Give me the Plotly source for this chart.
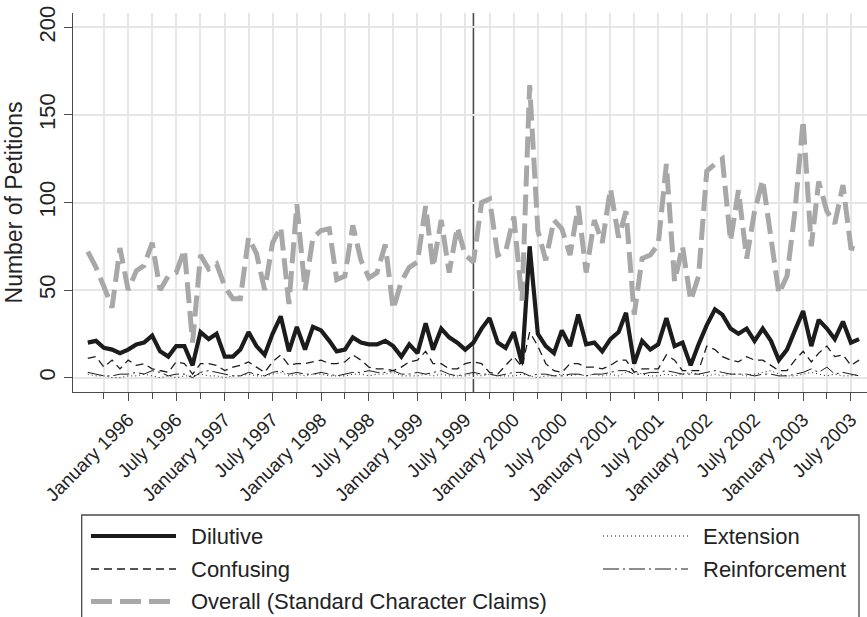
import pandas as pd
import plotly.graph_objects as go

# ---------------- data (monthly counts) ----------------
START_MONTH = "1995-08-01"
EVENT_DATE = "1999-08-01"

dilutive = [20, 21, 17, 16, 14, 16, 19, 20, 24, 15,
            12, 18, 18, 7, 26, 22, 25, 12, 12, 16,
            26, 18, 13, 25, 35, 15, 29, 16, 29, 27,
            21, 15, 16, 23, 20, 19, 19, 21, 18, 12,
            19, 14, 31, 16, 28, 23, 20, 16, 20, 28,
            34, 20, 17, 26, 8, 75, 25, 18, 14, 27,
            18, 36, 19, 20, 15, 22, 26, 37, 8, 21,
            16, 19, 34, 18, 20, 7, 19, 30, 39, 36,
            28, 25, 28, 21, 28, 21, 10, 16, 27, 38,
            18, 33, 28, 22, 32, 20, 22]

confusing = [11, 12, 6, 10, 5, 10, 7, 8, 5, 4,
             3, 9, 8, 2, 8, 8, 7, 4, 6, 7,
             9, 6, 3, 9, 13, 7, 8, 8, 9, 10,
             8, 8, 9, 13, 10, 6, 5, 5, 4, 6,
             9, 10, 15, 8, 8, 5, 5, 8, 9, 8,
             3, 2, 7, 12, 6, 26, 18, 8, 4, 3,
             8, 8, 6, 6, 5, 7, 10, 10, 3, 5,
             5, 5, 13, 10, 4, 4, 4, 18, 16, 12,
             10, 9, 12, 10, 10, 7, 4, 4, 10, 15,
             9, 14, 18, 12, 13, 7, 10]

overall = [72, 63, 52, 40, 74, 50, 61, 64, 77, 50,
           58, 60, 73, 20, 70, 62, 65, 52, 45, 45,
           80, 71, 50, 77, 86, 42, 99, 50, 80, 84,
           85, 56, 58, 87, 67, 57, 60, 76, 39, 55,
           63, 66, 98, 63, 90, 60, 86, 70, 66, 100,
           102, 70, 72, 92, 44, 167, 84, 67, 90, 85,
           70, 98, 60, 90, 77, 108, 80, 95, 36, 68,
           70, 76, 122, 55, 75, 44, 58, 118, 122, 125,
           78, 107, 68, 95, 113, 80, 48, 58, 95, 147,
           75, 112, 95, 88, 110, 74, 73]

extension = [2, 1, 1, 0, 0, 1, 1, 2, 1, 0,
             1, 0, 1, 1, 2, 1, 1, 0, 1, 1,
             2, 1, 1, 2, 3, 1, 2, 1, 2, 2,
             1, 1, 1, 2, 2, 1, 2, 2, 3, 1,
             1, 1, 2, 1, 2, 1, 1, 1, 2, 1,
             2, 1, 1, 1, 2, 1, 0, 1, 1, 2,
             1, 2, 1, 2, 1, 2, 1, 3, 4, 2,
             1, 1, 2, 1, 2, 3, 2, 1, 2, 1,
             2, 2, 1, 2, 3, 4, 2, 1, 1, 2,
             3, 2, 1, 2, 1, 1, 2]

reinforcement = [3, 2, 1, 1, 2, 2, 3, 2, 4, 3,
                 1, 2, 2, 0, 3, 4, 3, 2, 1, 1,
                 3, 2, 1, 3, 4, 2, 3, 2, 2, 3,
                 2, 1, 2, 3, 3, 4, 3, 3, 4, 2,
                 2, 3, 2, 3, 4, 2, 1, 2, 3, 2,
                 2, 1, 2, 3, 3, 1, 2, 2, 1, 1,
                 2, 2, 1, 2, 2, 3, 4, 4, 2, 2,
                 3, 3, 4, 3, 2, 2, 2, 3, 4, 3,
                 2, 2, 2, 1, 2, 2, 1, 1, 2, 3,
                 5, 3, 6, 2, 3, 2, 1]

y_ticks = [0, 50, 100, 150, 200]
X_FIRST_LABEL, X_LAST_LABEL = "1996-01-01", "2003-07-01"
X_FIRST_MINOR = "1995-10-01"

months = pd.date_range(START_MONTH, periods=len(dilutive), freq="MS")
major_ticks = pd.date_range(X_FIRST_LABEL, X_LAST_LABEL, freq="6MS")
minor_ticks = pd.date_range(X_FIRST_MINOR, X_LAST_LABEL, freq="3MS")
major_text = [d.strftime("%B %Y") for d in major_ticks]

# ---------------- styles ----------------
FONT = "Liberation Sans, Arial, Helvetica, sans-serif"
INK = "#232323"
AXIS = "#4a4a4a"
GRID = "#e6e6e6"

styles = {
    "Dilutive": dict(color="#1c1c1c", width=4.2, dash="solid"),
    "Confusing": dict(color="#1c1c1c", width=1.3, dash="8px,5px"),
    "Overall (Standard Character Claims)": dict(color="#a8a8a8", width=5, dash="21px,8px"),
    "Extension": dict(color="#1c1c1c", width=1.0, dash="1px,3px"),
    "Reinforcement": dict(color="#1c1c1c", width=1.0, dash="16px,4px,2px,4px"),
}
values = {
    "Dilutive": dilutive,
    "Confusing": confusing,
    "Overall (Standard Character Claims)": overall,
    "Extension": extension,
    "Reinforcement": reinforcement,
}
draw_order = ["Dilutive", "Extension", "Confusing", "Reinforcement",
              "Overall (Standard Character Claims)"]

fig = go.Figure()
for name in draw_order:
    fig.add_trace(go.Scatter(x=months, y=values[name], mode="lines", name=name,
                             line=styles[name], showlegend=False,
                             hoverinfo="x+y+name"))

W, H = 867, 617
L, R, T, B = 73, 0, 13, 225

fig.update_layout(
    width=W, height=H,
    margin=dict(l=L, r=R, t=T, b=B, pad=0),
    paper_bgcolor="white", plot_bgcolor="rgba(0,0,0,0)",
    font=dict(family=FONT, color=INK),
    showlegend=False,
)

fig.update_xaxes(
    type="date", range=["1995-06-06", "2003-08-31"],
    showline=True, linecolor=AXIS, linewidth=1.3, mirror=False,
    ticks="outside", ticklen=8, tickwidth=1.3, tickcolor=AXIS,
    tickmode="array", tickvals=major_ticks, ticktext=major_text, tickangle=-45,
    tickfont=dict(size=19, color=INK, family=FONT),
    showgrid=True, gridcolor=GRID, gridwidth=1.6, zeroline=False,
    minor=dict(tickmode="array", tickvals=minor_ticks, ticks="outside", ticklen=6,
               tickwidth=1.3, tickcolor=AXIS, showgrid=True,
               gridcolor=GRID, gridwidth=1.6),
)
fig.update_yaxes(
    range=[-8.2, 208.2], tickvals=y_ticks, tickangle=-90,
    showline=True, linecolor=AXIS, linewidth=1.3,
    ticks="outside", ticklen=8, tickwidth=1.3, tickcolor=AXIS,
    tickfont=dict(size=22, color=INK, family=FONT),
    showgrid=True, gridcolor=GRID, gridwidth=1.6, zeroline=False,
    title=dict(text="Number of Petitions", font=dict(size=23, color=INK, family=FONT),
               standoff=5),
)

# event line (Aug 1999)
fig.add_shape(type="line", xref="x", yref="paper", x0=EVENT_DATE, x1=EVENT_DATE,
              y0=0, y1=1, line=dict(color="#4d4d4d", width=1.6), layer="below")

# ---------------- legend box (drawn as layout) ----------------
pw, ph = W - L - R, H - T - B


def fx(px):
    return (px - L) / pw


def fy(py):
    return (H - B - py) / ph


fig.add_shape(type="rect", xref="paper", yref="paper",
              x0=fx(81.7), x1=fx(859), y0=fy(650), y1=fy(515),
              line=dict(color=AXIS, width=1.3), fillcolor="rgba(0,0,0,0)", layer="above")

legend_layout = [
    ("Dilutive", 0, 0), ("Confusing", 0, 1), ("Overall (Standard Character Claims)", 0, 2),
    ("Extension", 1, 0), ("Reinforcement", 1, 1),
]
col_x = [91, 603]
row_y = [536, 569, 601.5]
sample_len = 85
text_gap = 98
for name, c, r in legend_layout:
    st = styles[name]
    y = fy(row_y[r])
    fig.add_shape(type="line", xref="paper", yref="paper",
                  x0=fx(col_x[c]), x1=fx(col_x[c] + sample_len), y0=y, y1=y,
                  line=dict(color=st["color"], width=st["width"], dash=st["dash"]))
    fig.add_annotation(xref="paper", yref="paper", x=fx(col_x[c] + text_gap), y=y,
                       text=name, showarrow=False, xanchor="left", yanchor="middle",
                       font=dict(size=22, color=INK, family=FONT))

fig.write_html("out.html")
